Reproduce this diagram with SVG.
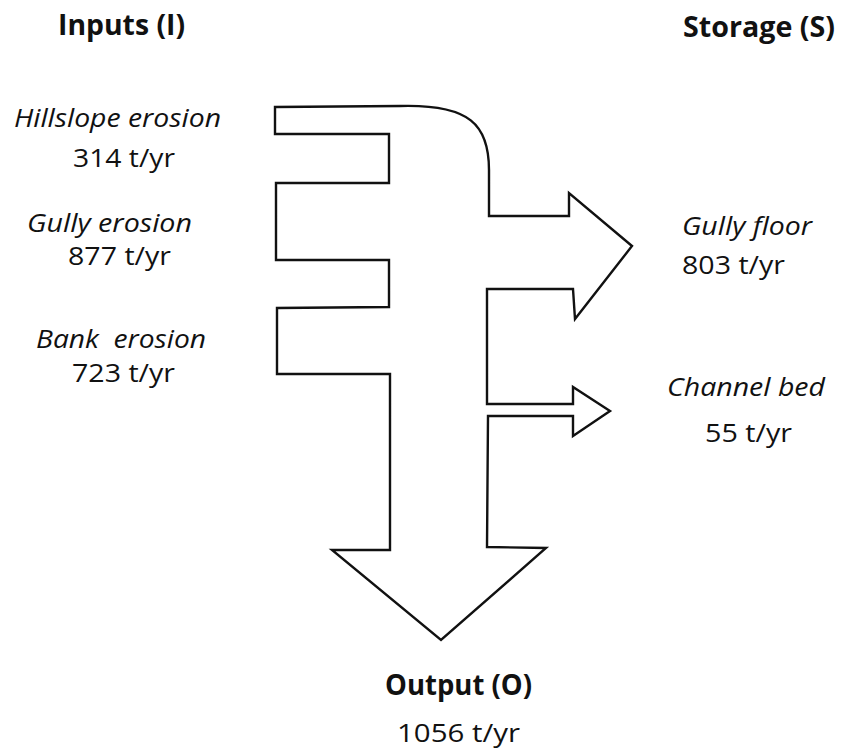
<svg xmlns="http://www.w3.org/2000/svg" width="842" height="755" viewBox="0 0 842 755">
<style>
.t{font-family:"Open Sans","Liberation Sans",sans-serif;font-size:26px;fill:#111}
.i{font-style:italic}
.b{font-weight:bold;font-size:29px}
.flow{fill:#fff;stroke:#111;stroke-width:2.4;stroke-linejoin:miter}
</style>
<rect width="842" height="755" fill="#fff"/>
<g id="flow-shape">
<path class="flow" d="M275,107 L400,106 C470,104 489,125 489,170 L489,216 L569,216 L569,193 L632,246 L575,319 L573,289 L487,289 L487,404 L573,404 L573,387 L610,411 L573,436 L573,416 L488,416 L487,547 L546,548 L441,640 L332,550 L390,550 L390,374 L277,374 L277,308 L389,307 L389,260 L276,260 L276,183 L389,183 L389,134 L275,134 Z"/>
</g>
<g id="inputs-header"><text class="t b" x="58" y="35" textLength="127" lengthAdjust="spacingAndGlyphs">Inputs (I)</text></g>
<g id="storage-header"><text class="t b" x="683" y="37" textLength="152" lengthAdjust="spacingAndGlyphs">Storage (S)</text></g>
<g id="hillslope">
<text class="t i" x="14" y="127" textLength="207" lengthAdjust="spacingAndGlyphs">Hillslope erosion</text>
<text class="t" x="73" y="167" textLength="102" lengthAdjust="spacingAndGlyphs">314 t/yr</text>
</g>
<g id="gully-erosion">
<text class="t i" x="27" y="232" textLength="165" lengthAdjust="spacingAndGlyphs">Gully erosion</text>
<text class="t" x="68" y="265" textLength="103" lengthAdjust="spacingAndGlyphs">877 t/yr</text>
</g>
<g id="bank-erosion">
<text class="t i" x="36" y="348" textLength="170" lengthAdjust="spacingAndGlyphs" xml:space="preserve">Bank  erosion</text>
<text class="t" x="72" y="382" textLength="103" lengthAdjust="spacingAndGlyphs">723 t/yr</text>
</g>
<g id="gully-floor">
<text class="t i" x="682" y="235" textLength="130" lengthAdjust="spacingAndGlyphs">Gully floor</text>
<text class="t" x="682" y="274" textLength="103" lengthAdjust="spacingAndGlyphs">803 t/yr</text>
</g>
<g id="channel-bed">
<text class="t i" x="667" y="396" textLength="158" lengthAdjust="spacingAndGlyphs">Channel bed</text>
<text class="t" x="705" y="442" textLength="87" lengthAdjust="spacingAndGlyphs">55 t/yr</text>
</g>
<g id="output">
<text class="t b" x="385" y="695" textLength="147" lengthAdjust="spacingAndGlyphs">Output (O)</text>
<text class="t" x="397" y="742" textLength="123" lengthAdjust="spacingAndGlyphs">1056 t/yr</text>
</g>
</svg>
